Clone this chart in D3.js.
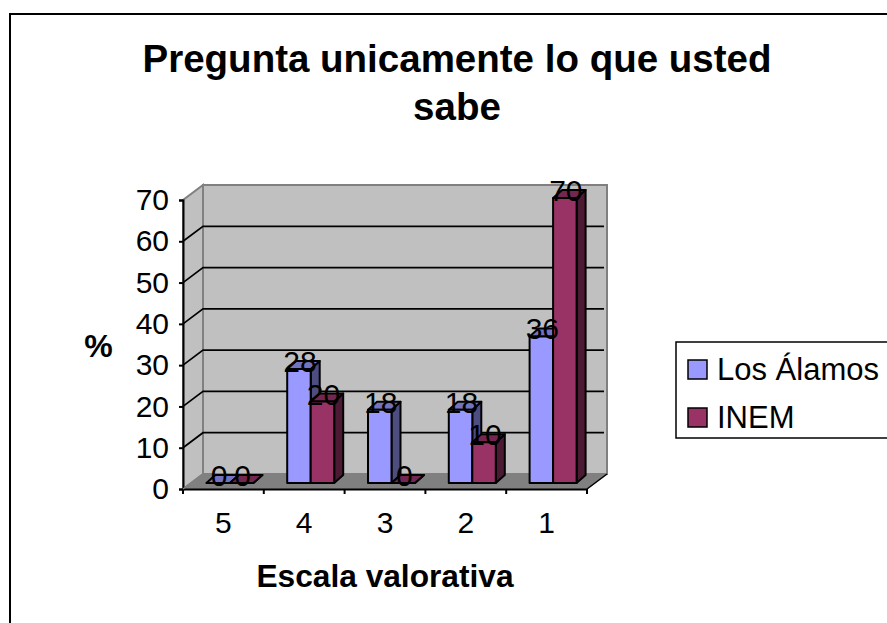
<!DOCTYPE html>
<html>
<head>
<meta charset="utf-8">
<script src="https://cdn.jsdelivr.net/npm/d3@7"></script>
<style>
  html, body { margin: 0; padding: 0; background: #fff; overflow: hidden; }
  text { font-family: "Liberation Sans", Arial, sans-serif; fill: #000; }
</style>
</head>
<body>
<script>
// values
const categories = ['5', '4', '3', '2', '1']
const seriesNames = ['Los Álamos', 'INEM']
const losAlamos = [0, 28, 18, 18, 36]
const inem = [0, 20, 0, 10, 70]
const yTicks = [0, 10, 20, 30, 40, 50, 60, 70]
const titleLines = ['Pregunta unicamente lo que usted', 'sabe']

const seriesValues = [losAlamos, inem]
const colors = [
    { front: '#9999ff', side: '#4d4d80', top: '#7373bf' },
    { front: '#993366', side: '#4d1a33', top: '#732650' }
]

const width = 887, height = 623
const depthX = 20, depthY = 15      // wall depth
const barDX = 9, barDY = 8          // bar depth

const svg = d3.select('body').append('svg')
    .attr('width', width)
    .attr('height', height)

// outer frame, runs off the picture on the right and bottom
svg.append('rect')
    .attr('x', 10).attr('y', 14)
    .attr('width', 890).attr('height', 640)
    .attr('fill', '#fff')
    .attr('stroke', '#000')
    .attr('stroke-width', 2)

const x = d3.scaleBand().domain(categories).range([183, 587])
const y = d3.scaleLinear().domain([0, 70]).range([489, 200])
// bars stand a bit inside the floor
const yBar = d3.scaleLinear().domain([0, 70]).range([483, 198])
const xSeries = d3.scaleBand().domain(seriesNames).range([0, 47])

const chart = svg.append('g')

const poly = pts => pts.map(p => p.join(',')).join(' ')
const x0 = x.range()[0], x1 = x.range()[1]
const yTop = y(70), yBottom = y(0)

// side wall, back wall, floor
chart.append('polygon')
    .attr('points', poly([[x0, yBottom], [x0 + depthX, yBottom - depthY], [x0 + depthX, yTop - depthY], [x0, yTop]]))
    .attr('fill', '#c0c0c0').attr('stroke', '#808080').attr('stroke-width', 2)
chart.append('polygon')
    .attr('points', poly([[x0 + depthX, yBottom - depthY], [x1 + depthX, yBottom - depthY], [x1 + depthX, yTop - depthY], [x0 + depthX, yTop - depthY]]))
    .attr('fill', '#c0c0c0').attr('stroke', '#808080').attr('stroke-width', 2)
chart.append('polygon')
    .attr('points', poly([[x0, yBottom], [x1, yBottom], [x1 + depthX, yBottom - depthY], [x0 + depthX, yBottom - depthY]]))
    .attr('fill', '#808080').attr('stroke', '#808080').attr('stroke-width', 1)

// gridlines, back wall and side wall
chart.selectAll('.grid')
    .data(yTicks.slice(1, -1))
    .enter()
    .append('polyline')
    .attr('class', 'grid')
    .attr('fill', 'none')
    .attr('stroke', '#000')
    .attr('stroke-width', 1.7)
    .attr('points', d => poly([[x0, y(d)], [x0 + depthX, y(d) - depthY], [x1 + depthX - 3, y(d) - depthY]]))

// axes
const yAxis = d3.axisLeft(y).tickValues(yTicks).tickSize(4).tickPadding(10)
const xAxis = d3.axisBottom(x).tickSize(0).tickPadding(23)

const gy = chart.append('g').attr('transform', 'translate(' + x0 + ',0)').call(yAxis)
const gx = chart.append('g').attr('transform', 'translate(0,' + yBottom + ')').call(xAxis)
gy.selectAll('text').attr('font-size', 30)
gx.selectAll('text').attr('font-size', 30)
gy.selectAll('line, path').attr('stroke', '#000').attr('stroke-width', 2)
gx.select('path').attr('stroke', '#000').attr('stroke-width', 2)
// ticks at band edges on the category axis
gx.selectAll('.edge')
    .data(d3.range(categories.length + 1))
    .enter()
    .append('line')
    .attr('class', 'edge')
    .attr('x1', i => x0 + i * x.step())
    .attr('x2', i => x0 + i * x.step())
    .attr('y1', 0).attr('y2', 5)
    .attr('stroke', '#000').attr('stroke-width', 2)
// right end of the floor edge
chart.append('line')
    .attr('x1', x1).attr('y1', yBottom)
    .attr('x2', x1 + depthX).attr('y2', yBottom - depthY)
    .attr('stroke', '#000').attr('stroke-width', 1.5)
chart.append('line')
    .attr('x1', x0).attr('y1', yBottom)
    .attr('x2', x0 + depthX).attr('y2', yBottom - depthY)
    .attr('stroke', '#808080').attr('stroke-width', 1.5)

// bars
const barLeft = (c, s) => x(c) + x.bandwidth() / 2 + 6.5 - xSeries.bandwidth() + s * xSeries.bandwidth()

categories.forEach((c, ci) => {
    seriesValues.forEach((vals, s) => {
        const g = chart.append('g')
        const l = barLeft(c, s)
        const r = l + xSeries.bandwidth()
        const t = yBar(vals[ci])
        const b = yBar(0)
        const col = colors[s]
        g.append('polygon')
            .attr('points', poly([[r, b], [r + barDX, b - barDY], [r + barDX, t - barDY], [r, t]]))
            .attr('fill', col.side)
        g.append('polygon')
            .attr('points', poly([[l, t], [l + barDX, t - barDY], [r + barDX, t - barDY], [r, t]]))
            .attr('fill', col.top)
        g.append('rect')
            .attr('x', l).attr('y', t)
            .attr('width', r - l).attr('height', b - t)
            .attr('fill', col.front)
        g.selectAll('*')
            .attr('stroke', '#000')
            .attr('stroke-width', 2)
            .attr('stroke-linejoin', 'round')
    })
})

// data labels go on top of everything
categories.forEach((c, ci) => {
    seriesValues.forEach((vals, s) => {
        chart.append('text')
            .attr('x', barLeft(c, s) + xSeries.bandwidth() / 2 + 1)
            .attr('y', yBar(vals[ci]) + 3)
            .attr('text-anchor', 'middle')
            .attr('font-size', 30)
            .text(vals[ci])
    })
})

// titles
svg.selectAll('.title')
    .data(titleLines)
    .enter()
    .append('text')
    .attr('class', 'title')
    .attr('x', 457)
    .attr('y', (d, i) => 72 + i * 48)
    .attr('text-anchor', 'middle')
    .attr('font-size', 38.5)
    .attr('font-weight', 'bold')
    .text(d => d)

svg.append('text')
    .attr('x', 98.5).attr('y', 357)
    .attr('text-anchor', 'middle')
    .attr('font-size', 32)
    .attr('font-weight', 'bold')
    .text('%')

svg.append('text')
    .attr('x', 385).attr('y', 587)
    .attr('text-anchor', 'middle')
    .attr('font-size', 31.7)
    .attr('font-weight', 'bold')
    .text('Escala valorativa')

// legend
const legend = svg.append('g')
legend.append('rect')
    .attr('x', 676).attr('y', 342)
    .attr('width', 240).attr('height', 96)
    .attr('fill', '#fff')
    .attr('stroke', '#000')
    .attr('stroke-width', 1.5)

const legendY = d3.scalePoint().domain(seriesNames).range([369.5, 417.5])
seriesNames.forEach((name, s) => {
    legend.append('rect')
        .attr('x', 688).attr('y', legendY(name) - 9.5)
        .attr('width', 19).attr('height', 19)
        .attr('fill', colors[s].front)
        .attr('stroke', '#000')
        .attr('stroke-width', 1.5)
    legend.append('text')
        .attr('x', 717).attr('y', legendY(name) + 10.5)
        .attr('font-size', 31)
        .text(name)
})
</script>
</body>
</html>
